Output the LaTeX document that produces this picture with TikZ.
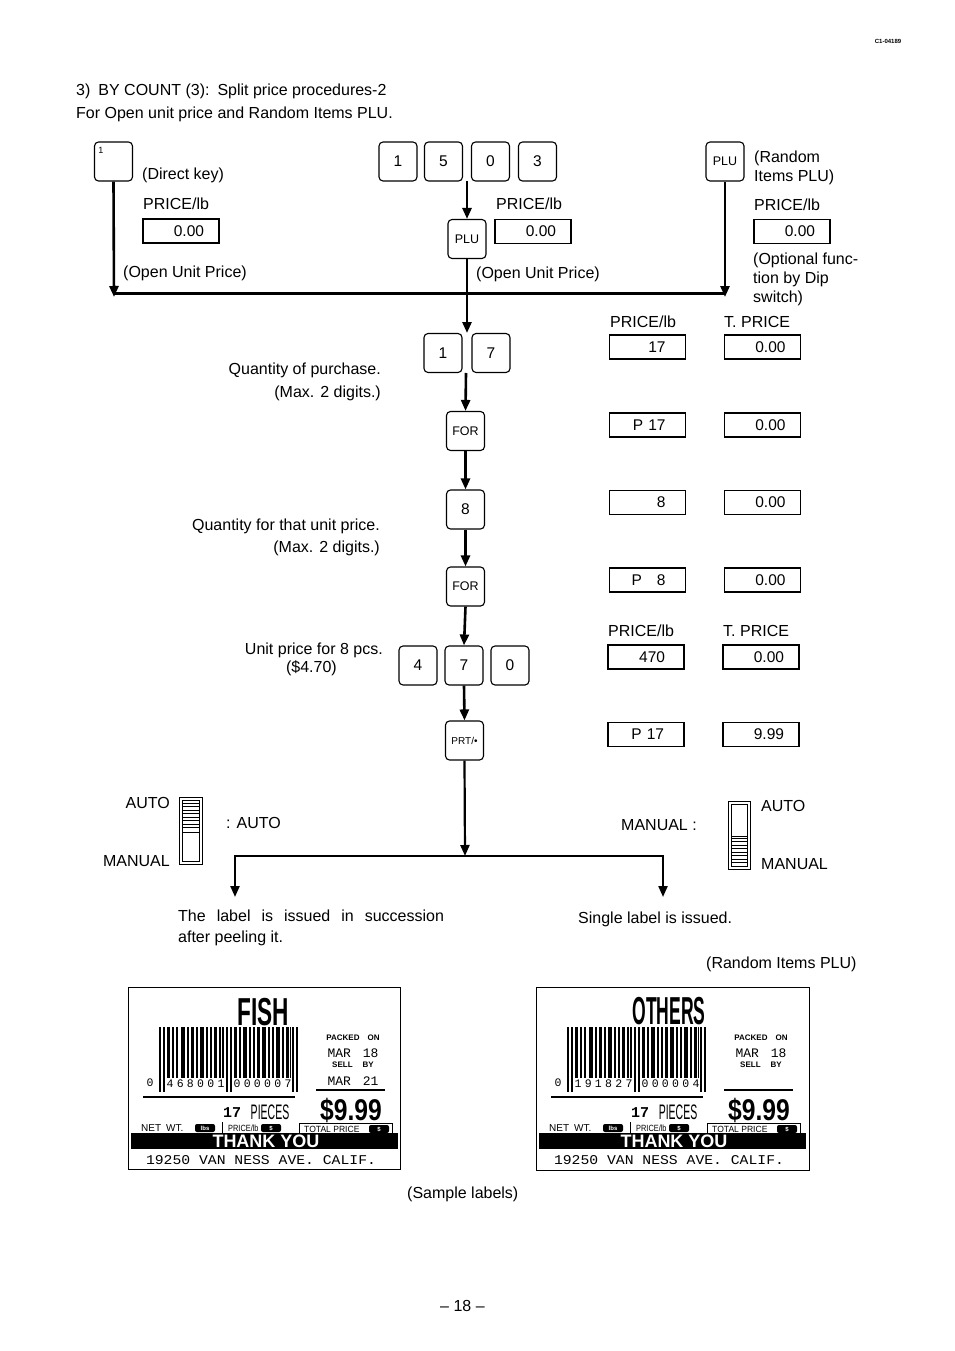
\documentclass[tikz,border=0pt]{standalone}
\usepackage{fontspec}
\usepackage{graphicx}
\setmainfont{Liberation Sans}
\newfontfamily\lmono{Liberation Mono}
\usetikzlibrary{arrows.meta}
\begin{document}
\begin{tikzpicture}[x=1pt,y=-1pt,
 txt/.style={font=\fontsize{16}{18}\selectfont, inner sep=0pt, anchor=base west},
 txtr/.style={txt, anchor=base east},
 keybox/.style={draw, rounded corners=4pt, line width=1.1pt, minimum width=38pt, minimum height=39pt, inner sep=0pt, font=\fontsize{15.5}{15}\selectfont},
 fnkey/.style={keybox, font=\fontsize{12.5}{12}\selectfont},
 dispL/.style={draw, line width=1.5pt, minimum height=24pt, text width=36pt, inner xsep=20pt, inner ysep=0pt, align=right, font=\fontsize{15.5}{15}\selectfont},
 dispR/.style={dispL, text width=46pt, inner xsep=15pt},
 flow/.style={line width=2.6pt, -{Triangle[length=11pt,width=9pt]}},
 flowline/.style={line width=2.6pt},
 flowthin/.style={line width=2.2pt, line join=miter, -{Triangle[length=11pt,width=9pt]}},
 lsmall/.style={font=\fontsize{9}{9}\selectfont, inner sep=0pt, anchor=west},
 blk/.style={fill=black, text=white, rounded corners=2pt, font=\fontsize{6}{6}\selectfont\bfseries, inner sep=0pt, minimum width=20pt, minimum height=8pt},
 lmonotxt/.style={font=\lmono\fontsize{12}{12}\selectfont, inner sep=0pt},
 digit/.style={font=\lmono\fontsize{11.5}{12}\selectfont, inner sep=0pt}
]
\path[use as bounding box, fill=white] (0,0) rectangle (954,1351);

% header
\node[font=\fontsize{6}{6}\selectfont\bfseries, inner sep=0pt] (hdr) at (888,41) {C1-04189};
\node[txt] (title1) at (76,96) {3)\hspace{8pt}BY COUNT (3):\hspace{8pt}Split price procedures-2};
\node[txt] (title2) at (76,119) {For Open unit price and Random Items PLU.};

% top keys
\node[keybox] (d1) at (113.5,161.5) {};
\node[font=\fontsize{9}{9}\selectfont, inner sep=0pt] (d1n) at (101,150) {1};
\node[keybox] (k1) at (398,161.5) {1};
\node[keybox] (k5) at (443.5,161.5) {5};
\node[keybox] (k0) at (490.5,161.5) {0};
\node[keybox] (k3) at (537.5,161.5) {3};
\node[fnkey] (plu1) at (467,239) {PLU};
\node[fnkey] (plu2) at (725,161.5) {PLU};

\node[txt] (t1) at (142,180) {(Direct key)};
\node[txt] (t2) at (143,210) {PRICE/lb};
\node[dispR] (dA) at (181,231) {0.00};
\node[txt] (t3) at (123,277) {(Open Unit Price)};
\node[txt] (t4) at (496,210) {PRICE/lb};
\node[dispR] (dB) at (533,231.5) {0.00};
\node[txt] (t5) at (476,278) {(Open Unit Price)};
\node[txt] (t6) at (754,163) {(Random};
\node[txt] (t7) at (754,182) {Items PLU)};
\node[txt] (t8) at (754,211) {PRICE/lb};
\node[dispR] (dC) at (792,231.5) {0.00};
\node[txt] (t9) at (753,264) {(Optional func-};
\node[txt] (t10) at (753,283) {tion by Dip};
\node[txt] (t11) at (753,302) {switch)};

% flow top
\coordinate (g1) at (467,181);
\coordinate (jl) at (114,297);
\coordinate (hl) at (114,293.5);
\coordinate (hr) at (725,293.5);
\coordinate (jr) at (725,297);
\coordinate (g2) at (467,333);
\coordinate (g3) at (466,373);
\draw[flow] (g1) -- (plu1.north);
\draw[flow] (d1.south) -- (jl);
\draw[flow] (plu2.south) -- (jr);
\draw[flowline] (hl) -- (hr);
\draw[flow] (plu1.south) -- (g2);

% center column
\node[keybox] (q1) at (443,353) {1};
\node[keybox] (q7) at (491,353) {7};
\node[fnkey] (for1) at (465.5,431) {FOR};
\node[keybox] (k8) at (465.5,509.5) {8};
\node[fnkey] (for2) at (465.5,586.5) {FOR};
\node[keybox] (u4) at (418,665.5) {4};
\node[keybox] (u7) at (464,665.5) {7};
\node[keybox] (u0) at (510,665.5) {0};
\node[keybox, font=\fontsize{10}{10}\selectfont] (prt) at (464.5,740.5) {PRT/•};

\draw[flow] (g3) -- (for1.north);
\draw[flow] (for1.south) -- (k8.north);
\draw[flow] (k8.south) -- (for2.north);
\draw[flow] (for2.south) -- (u7.north);
\draw[flow] (u7.south) -- (prt.north);

\node[txtr] (qa) at (381,374) {Quantity of purchase.};
\node[txtr] (qb) at (381,397) {(Max. 2 digits.)};
\node[txtr] (qc) at (380,530) {Quantity for that unit price.};
\node[txtr] (qd) at (380,552) {(Max. 2 digits.)};
\node[txtr] (qe) at (383,654) {Unit price for 8 pcs.};
\node[txtr] (qf) at (337,672) {(\$4.70)};

% right displays
\node[txt] (h1) at (610,327) {PRICE/lb};
\node[txt] (h2) at (724,327) {T. PRICE};
\node[dispL] (r1a) at (647.5,347) {17};
\node[dispR] (r1b) at (762.5,347) {0.00};
\node[dispL] (r2a) at (647.5,425) {P 17};
\node[dispR] (r2b) at (762.5,425) {0.00};
\node[dispL] (r3a) at (647.5,502.5) {8};
\node[dispR] (r3b) at (762.5,502.5) {0.00};
\node[dispL] (r4a) at (647.5,580) {P\hspace{15pt}8};
\node[dispR] (r4b) at (762.5,580) {0.00};
\node[txt] (h3) at (608,636) {PRICE/lb};
\node[txt] (h4) at (723,636) {T. PRICE};
\node[dispL, text width=38pt, inner xsep=19pt] (r5a) at (646,657) {470};
\node[dispR] (r5b) at (761,657) {0.00};
\node[dispL] (r6a) at (646,734.5) {P 17};
\node[dispR] (r6b) at (761,734.5) {9.99};

% bottom flow
\coordinate (m) at (465,856);
\coordinate (bl) at (235,856);
\coordinate (br) at (663,856);
\coordinate (bla) at (235,897);
\coordinate (bra) at (663,897);
\draw[flowthin] (prt.south) -- (m);
\draw[flowthin] (m) -- (bl) -- (bla);
\draw[flowthin] (m) -- (br) -- (bra);

% switches
\node[txtr] (sw1a) at (170,808) {AUTO};
\node[txtr] (sw1b) at (170,866) {MANUAL};
\draw[line width=1pt] (179,797) rectangle (202,864);
\draw[line width=0.6pt] (182,800) rectangle (199,861);
\foreach \yy in {803,806.5,...,830} \draw[line width=0.8pt] (182,\yy) -- (199,\yy);
\draw[line width=1pt] (182,832) -- (199,832);
\node[txt] (sw1c) at (226,828) {:\hspace{6pt}AUTO};

\node[txt] (sw2c) at (621,830) {MANUAL :};
\draw[line width=1pt] (728,801) rectangle (750,869);
\draw[line width=0.6pt] (731,804) rectangle (747,866);
\foreach \yy in {838,841.5,...,864} \draw[line width=0.8pt] (731,\yy) -- (747,\yy);
\draw[line width=1pt] (731,836) -- (747,836);
\node[txt] (sw2a) at (761,811) {AUTO};
\node[txt] (sw2b) at (761,869) {MANUAL};

\node[txt] (o1) at (178,921) {The\hspace{11pt}label\hspace{11pt}is\hspace{11pt}issued\hspace{11pt}in\hspace{11pt}succession};
\node[txt] (o2) at (178,942) {after peeling it.};
\node[txt] (o3) at (578,923) {Single label is issued.};
\node[txt] (o4) at (706,968) {(Random Items PLU)};

% sample labels
\draw[line width=1pt] (128,987) rectangle (400,1169);
\draw[line width=1pt] (536,987) rectangle (809,1170);
\node[font=\fontsize{39}{39}\selectfont\bfseries, inner sep=0pt] (fish) at (263,1012) {\scalebox{0.58}[1]{FISH}};
\node[font=\fontsize{39}{39}\selectfont\bfseries, inner sep=0pt] (others) at (669,1011) {\scalebox{0.45}[1]{OTHERS}};

\foreach \ox in {0,408} {
 \begin{scope}[xshift=\ox pt]
 \foreach \bx/\bw in {159/1.6,163/1.6,226/1.6,230/1.6,292/1.6,296/1.6}
   \fill (\bx,1027) rectangle ++(\bw,65);
 \foreach \bx/\bw in {167/3,172/1.5,176/2.2,181/4,187/1.5,191/3,196/1.5,200/4,206/2.2,210/1.5,214/3,219/1.5,222/2.2,234/3,239/1.5,243/4,249/2.2,253/1.5,257/3,262/4,268/1.5,272/2.2,276/3.5,282/1.5,286/3,289.5/1.2}
   \fill (\bx,1027) rectangle ++(\bw,51);
 \draw[line width=2pt] (143,1097) -- (295,1097);
 \node[font=\fontsize{8}{8}\selectfont\bfseries, inner sep=0pt] (pk\ox) at (353,1038) {PACKED\hspace{8pt}ON};
 \node[lmonotxt, font=\lmono\fontsize{13}{13}\selectfont] (mar\ox) at (353,1053) {MAR\hspace{4pt} 18};
 \node[font=\fontsize{8}{8}\selectfont\bfseries, inner sep=0pt] (sb\ox) at (353,1065) {SELL\hspace{10pt}BY};
 \draw[line width=1.5pt] (316,1090) -- (385,1090);
 \node[lmonotxt, font=\lmono\bfseries\fontsize{15}{15}\selectfont] (n17\ox) at (232,1113) {17};
 \node[font=\fontsize{21}{21}\selectfont, inner sep=0pt] (pc\ox) at (270,1112) {\scalebox{0.5}[1]{PIECES}};
 \node[font=\fontsize{30}{30}\selectfont\bfseries, inner sep=0pt, anchor=base] (pr\ox) at (351,1120) {\scalebox{0.82}[1]{\$9.99}};
 \node[lsmall, font=\fontsize{10}{10}\selectfont] (nw\ox) at (141,1128) {NET\hspace{5pt}WT.};
 \node[blk] (lb\ox) at (205,1128) {lbs};
 \draw[line width=1pt] (222,1122) -- (222,1133);
 \node[lsmall] (pl\ox) at (228,1128) {\scalebox{0.82}[1]{PRICE/lb}};
 \node[blk] (d1b\ox) at (271,1128) {\$};
 \draw[line width=1pt] (299,1134) -- (299,1123) -- (392,1123) -- (392,1134);
 \node[lsmall] (tp\ox) at (304,1129) {\scalebox{0.95}[1]{TOTAL PRICE}};
 \node[blk] (d2b\ox) at (379,1129) {\$};
 \fill (131,1133) rectangle (398,1149);
 \node[text=white, font=\fontsize{18}{18}\selectfont\bfseries, inner sep=0pt] (ty\ox) at (266,1141.5) {THANK YOU};
 \node[lmonotxt] (ad\ox) at (261,1160) {\scalebox{1.1}[1]{\fontsize{13.4}{14}\selectfont 19250 VAN NESS AVE. CALIF.}};
 \end{scope}
}
\node[lmonotxt, font=\lmono\fontsize{13}{13}\selectfont] (mar21) at (353,1081) {MAR\hspace{4pt} 21};

% barcode digits
\node[digit] (z1) at (150,1083) {0};
\foreach \c [count=\i from 0] in {4,6,8,0,0,1} \node[digit] (za\i) at (170+10.2*\i,1084) {\c};
\foreach \c [count=\i from 0] in {0,0,0,0,0,7} \node[digit] (zb\i) at (237+10.2*\i,1084) {\c};
\node[digit] (z2) at (558,1083) {0};
\foreach \c [count=\i from 0] in {1,9,1,8,2,7} \node[digit] (zc\i) at (578+10.2*\i,1084) {\c};
\foreach \c [count=\i from 0] in {0,0,0,0,0,4} \node[digit] (zd\i) at (645+10.2*\i,1084) {\c};

\node[txt] (cap) at (407,1198) {(Sample labels)};
\node[txt] (pg) at (440,1311) {-- 18 --};
\end{tikzpicture}
\end{document}
